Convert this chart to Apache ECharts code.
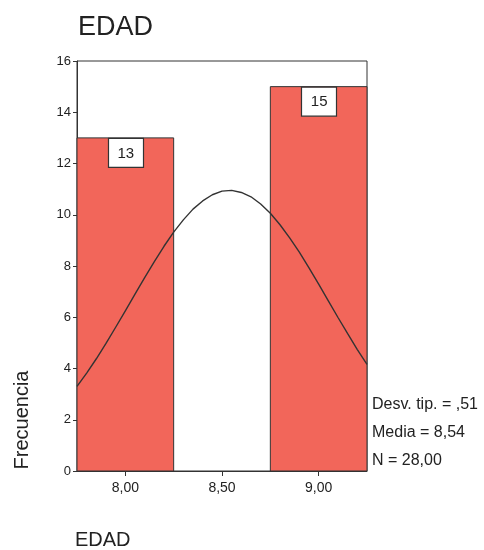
<!DOCTYPE html>
<html>
<head>
<meta charset="utf-8">
<script src="https://cdn.jsdelivr.net/npm/echarts@6/dist/echarts.min.js"></script>
<style>
html,body{margin:0;padding:0;background:#fff;}
#chart{width:484px;height:550px;}
</style>
</head>
<body>
<div id="chart"></div>
<script>
// ---- data ----
var title = 'EDAD';
var xName = 'EDAD';
var yName = 'Frecuencia';
var binCenters = [8.0, 9.0];
var binWidth = 0.5;
var counts = [13, 15];
var xMin = 7.75, xMax = 9.25;
var yTicksMax = 16, yInterval = 2;
var xTickValues = [8.0, 8.5, 9.0];
var xTickLabels = ['8,00', '8,50', '9,00'];
var curveX = [7.75,7.80,7.85,7.90,7.95,8.00,8.05,8.10,8.15,8.20,8.25,8.30,8.35,8.40,8.45,8.50,8.55,8.60,8.65,8.70,8.75,8.80,8.85,8.90,8.95,9.00,9.05,9.10,9.15,9.20,9.25];
var curveY = [3.30,3.82,4.38,4.98,5.61,6.25,6.90,7.55,8.17,8.77,9.32,9.80,10.22,10.54,10.78,10.92,10.95,10.87,10.70,10.42,10.06,9.61,9.10,8.54,7.93,7.29,6.64,5.99,5.36,4.74,4.16];
var statsLines = ['Desv. tip. = ,51', 'Media = 8,54', 'N = 28,00'];

// ---- build ----
var barData = binCenters.map(function (c, i) {
  return [c - binWidth / 2, c + binWidth / 2, counts[i]];
});
var curveData = curveX.map(function (x, i) { return [x, curveY[i]]; });

var FONT = 'Liberation Sans, Arial, sans-serif';
var chart = echarts.init(document.getElementById('chart'), null, {renderer: 'canvas'});

var option = {
  backgroundColor: '#ffffff',
  animation: false,
  title: {
    text: title, left: 73, top: 9,
    textStyle: {fontFamily: FONT, fontSize: 27, fontWeight: 'normal', color: '#222'}
  },
  grid: {
    left: 77, right: 117, top: 61, bottom: 79,
    show: true, borderColor: '#333', borderWidth: 1, backgroundColor: '#fff'
  },
  xAxis: {
    type: 'value', min: xMin, max: xMax,
    axisLine: {show: true, onZero: false, lineStyle: {color: '#333', width: 1}},
    axisTick: {show: true, length: 5, inside: false, customValues: xTickValues, lineStyle: {color: '#333'}},
    axisLabel: {
      show: true, customValues: xTickValues, margin: 10,
      fontFamily: FONT, fontSize: 14, color: '#222',
      formatter: function (v) {
        var idx = xTickValues.indexOf(v);
        return idx >= 0 ? xTickLabels[idx] : '';
      }
    },
    splitLine: {show: false}
  },
  yAxis: {
    type: 'value', min: 0, max: yTicksMax, interval: yInterval,
    axisLine: {show: true, lineStyle: {color: '#333', width: 1}},
    axisTick: {show: true, length: 4, lineStyle: {color: '#333'}},
    axisLabel: {fontFamily: FONT, fontSize: 13, color: '#222', margin: 6},
    splitLine: {show: false}
  },
  series: [
    {
      type: 'custom',
      data: barData,
      encode: {x: [0, 1], y: 2},
      renderItem: function (params, api) {
        var x0 = api.value(0), x1 = api.value(1), v = api.value(2);
        var p0 = api.coord([x0, v]);
        var p1 = api.coord([x1, 0]);
        var cx = (p0[0] + p1[0]) / 2;
        var bw = 35, bh = 29;
        return {
          type: 'group',
          children: [
            {
              type: 'rect',
              shape: {x: p0[0], y: p0[1], width: p1[0] - p0[0], height: p1[1] - p0[1]},
              style: {fill: '#F2665A', stroke: '#333', lineWidth: 1}
            },
            {
              type: 'rect',
              shape: {x: Math.round(cx - bw / 2) + 0.5, y: p0[1] + 0.5, width: bw, height: bh},
              style: {fill: '#fff', stroke: '#333', lineWidth: 1.2}
            },
            {
              type: 'text',
              style: {
                x: cx + 0.5, y: p0[1] + bh / 2 + 1,
                text: String(v), align: 'center', verticalAlign: 'middle',
                font: 'normal 15px ' + FONT, fill: '#222'
              }
            }
          ]
        };
      },
      z: 2
    },
    {
      type: 'line',
      data: curveData,
      smooth: false,
      symbol: 'none',
      clip: true,
      lineStyle: {color: '#333', width: 1.4},
      z: 3
    }
  ],
  graphic: [
    {
      type: 'text', x: 22, y: 420, rotation: Math.PI / 2,
      style: {text: yName, font: 'normal 20px ' + FONT, fill: '#222', align: 'center', verticalAlign: 'middle'}
    },
    {
      type: 'text', x: 75, y: 540,
      style: {text: xName, font: 'normal 20px ' + FONT, fill: '#222', align: 'left', verticalAlign: 'middle'}
    }
  ].concat(statsLines.map(function (t, i) {
    return {
      type: 'text', x: 372, y: 405 + i * 28,
      style: {text: t, font: 'normal 16px ' + FONT, fill: '#222', align: 'left', verticalAlign: 'middle'}
    };
  }))
};
chart.setOption(option);
</script>
</body>
</html>
